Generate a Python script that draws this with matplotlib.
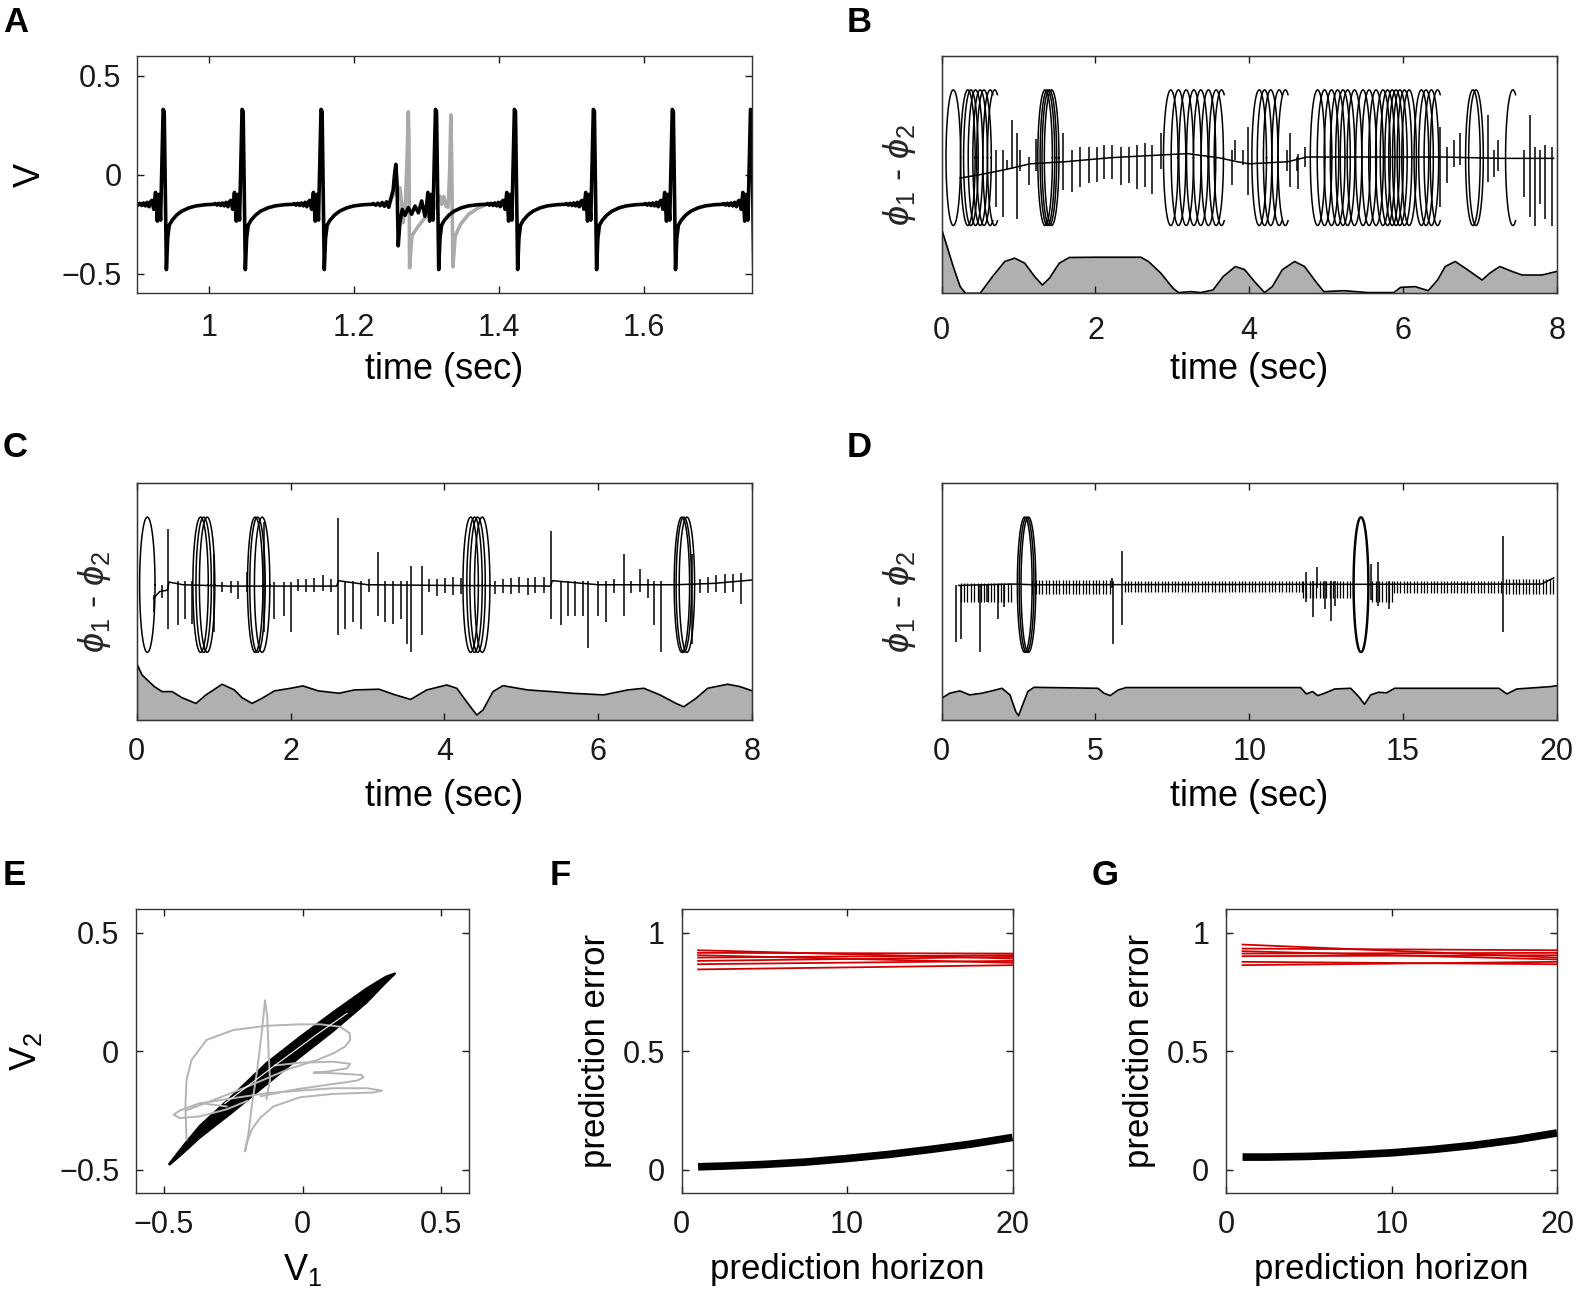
import numpy as np
import matplotlib
matplotlib.use("Agg")
import matplotlib.pyplot as plt

plt.rcParams['font.family'] = ['Liberation Sans', 'DejaVu Sans']
plt.rcParams['mathtext.fontset'] = 'custom'
plt.rcParams['mathtext.rm'] = 'Liberation Sans'
plt.rcParams['mathtext.it'] = 'Liberation Sans:italic'

# ---------------- A: membrane voltage ----------------
spike_dt = [-0.040, -0.0375, -0.035, -0.0325, -0.030, -0.0275, -0.025, -0.0225, -0.020,
            -0.0175, -0.0160, -0.0135, -0.0110, -0.0085, -0.0062, -0.0040, -0.0005, 0.0010,
            0.0030, 0.0040, 0.0058, 0.0080, 0.012, 0.018, 0.025, 0.035, 0.045, 0.058, 0.069]
spike_v = [-0.150, -0.146, -0.154, -0.145, -0.156, -0.143, -0.158, -0.140, -0.162,
           -0.135, -0.130, -0.175, -0.090, -0.235, -0.100, -0.230, 0.330, 0.320,
           -0.200, -0.480, -0.320, -0.255, -0.230, -0.205, -0.185, -0.168, -0.158, -0.152, -0.150]
spikes_A = [0.937, 1.046, 1.155, 1.313, 1.422, 1.531, 1.640, 1.748]

# cell 1 around the desynchronising event
blk_t = [1.2245, 1.2270, 1.2300, 1.2330, 1.2360, 1.2390, 1.2420, 1.2450, 1.2480, 1.2510,
         1.2540, 1.2560, 1.2578, 1.2595, 1.2611, 1.2634, 1.2667, 1.2704, 1.2750, 1.2796,
         1.2843, 1.2890, 1.2935, 1.2980, 1.3005]
blk_v = [-0.150, -0.146, -0.155, -0.144, -0.157, -0.141, -0.160, -0.138, -0.165, -0.120,
         -0.080, 0.000, 0.052, -0.050, -0.360, -0.243, -0.176, -0.206, -0.167, -0.200,
         -0.159, -0.193, -0.133, -0.210, -0.150]
# cell 2 where it departs from cell 1
gry_t = [1.2450, 1.2480, 1.2520, 1.2560, 1.2600, 1.2634, 1.2660, 1.2680, 1.2710, 1.2735,
         1.2750, 1.2758, 1.2768, 1.2800, 1.2843, 1.2890, 1.2980, 1.3070, 1.3130, 1.3160,
         1.3185, 1.3210, 1.3240, 1.3270, 1.3300, 1.3320, 1.3338, 1.3348, 1.3366, 1.3398,
         1.3470, 1.3583, 1.3722, 1.3810]
gry_v = [-0.138, -0.160, -0.120, -0.090, -0.075, -0.066, -0.150, -0.243, -0.150, 0.100,
         0.318, 0.200, -0.471, -0.310, -0.285, -0.260, -0.218, -0.193, -0.160, -0.120,
         -0.108, -0.150, -0.110, -0.160, -0.165, 0.000, 0.302, 0.100, -0.466, -0.310,
         -0.252, -0.200, -0.167, -0.155]

# ---------------- B, C, D: phase difference ----------------
loops_B = [0.151, 0.34, 0.38, 0.44, 0.50, 0.55, 1.345, 1.375, 1.40, 1.43,
           2.98, 3.08, 3.18, 3.28, 3.37, 3.47, 3.57, 4.13, 4.20, 4.28,
           4.89, 4.98, 5.07, 5.15, 5.22, 5.28, 5.37, 5.48, 5.56, 5.65, 5.74, 5.80,
           5.86, 5.91, 5.96, 6.02, 6.08, 6.24, 6.30, 6.37, 6.91, 6.95]
arcs_B = [0.63, 0.69, 3.64, 4.39, 4.47, 6.45, 7.43]
base_B_t = [0.24, 0.50, 0.85, 1.15, 1.60, 2.20, 2.85, 3.20, 3.60, 3.85, 4.00, 4.50, 4.75, 6.50, 7.30, 7.96]
base_B_y = [-0.30, -0.25, -0.17, -0.09, -0.06, 0.00, 0.04, 0.06, 0.00, -0.06, -0.09, -0.06, 0.01, 0.01, -0.01, -0.01]
ticks_B = [(0.70, 0.11, -0.73), (0.80, 0.11, -0.88), (0.85, -0.04, -0.16), (0.92, 0.56, -0.16),
           (0.98, 0.36, -0.90), (1.02, 0.11, -0.19), (1.13, 0.01, -0.41), (1.23, 0.28, -0.19),
           (1.58, 0.36, -0.48), (1.69, 0.11, -0.51), (1.80, 0.16, -0.43), (1.91, 0.16, -0.38),
           (2.02, 0.16, -0.36), (2.11, 0.19, -0.31), (2.22, 0.19, -0.31), (2.33, 0.16, -0.41),
           (2.43, 0.16, -0.38), (2.54, 0.19, -0.46), (2.64, 0.21, -0.43), (2.74, 0.19, -0.53),
           (2.85, 0.36, -0.16), (3.77, 0.11, -0.41), (3.81, 0.26, -0.04), (3.92, 0.11, -0.11),
           (3.99, 0.46, -0.55), (4.49, 0.11, -0.19), (4.53, 0.36, -0.43), (4.62, 0.01, -0.19),
           (4.64, 0.06, -0.46), (4.73, 0.16, -0.14), (6.48, 0.46, -0.73), (6.57, 0.16, -0.38),
           (6.66, 0.26, -0.14), (6.74, 0.36, -0.11), (7.11, 0.63, -0.36), (7.18, 0.11, -0.28),
           (7.24, 0.26, -0.19), (7.57, 0.11, -0.58), (7.65, 0.63, -0.88), (7.72, 0.16, -1.0),
           (7.78, 0.11, -0.68), (7.85, 0.19, -0.90), (7.94, 0.16, -1.0)]
prof_B_t = [0.0, 0.15, 0.24, 0.31, 0.50, 0.66, 0.82, 0.95, 1.08, 1.21, 1.31, 1.40, 1.53, 1.66,
            2.01, 2.59, 2.69, 2.85, 3.01, 3.08, 3.24, 3.37, 3.53, 3.66, 3.82, 3.94, 4.07, 4.20,
            4.30, 4.43, 4.59, 4.72, 4.85, 4.97, 5.23, 5.55, 5.88, 5.97, 6.16, 6.33, 6.45, 6.55,
            6.68, 6.81, 7.03, 7.13, 7.26, 7.42, 7.55, 7.81, 8.0]
prof_B_v = [0.27, 0.113, 0.028, 0.0, 0.0, 0.07, 0.134, 0.148, 0.127, 0.07, 0.035, 0.063, 0.127, 0.151,
            0.152, 0.152, 0.134, 0.085, 0.021, 0.003, 0.007, 0.003, 0.014, 0.07, 0.113, 0.10, 0.049, 0.003,
            0.028, 0.099, 0.134, 0.113, 0.056, 0.007, 0.011, 0.003, 0.003, 0.025, 0.028, 0.011, 0.056, 0.113,
            0.134, 0.106, 0.056, 0.085, 0.113, 0.092, 0.077, 0.077, 0.092]

loops_C = [0.138, 0.83, 0.87, 0.915, 1.54, 1.57, 1.63, 4.34, 4.39, 4.43, 4.49, 7.085, 7.11, 7.15]
arcs_C = []
base_C_t = [0.22, 0.30, 0.40, 0.42, 0.60, 1.20, 2.00, 2.60, 2.62, 3.00, 4.00, 5.38, 5.40, 6.00, 7.00, 7.50, 8.00]
base_C_y = [-0.20, -0.10, -0.08, 0.04, 0.00, -0.02, -0.02, -0.02, 0.06, 0.00, -0.01, -0.02, 0.06, 0.00, 0.00, 0.02, 0.07]
ticks_C = [(0.22, -0.15, -0.41), (0.33, 0.0, -0.20), (0.41, 0.83, -0.65), (0.54, 0.05, -0.60),
           (0.63, 0.05, -0.51), (0.72, 0.05, -0.58), (1.01, 0.46, -0.70), (1.11, 0.04, -0.11),
           (1.22, 0.06, -0.12), (1.32, 0.06, -0.21), (1.43, 0.19, -0.11), (1.66, 0.93, -0.70),
           (1.79, 0.04, -0.51), (1.91, 0.04, -0.46), (2.00, 0.04, -0.70), (2.10, 0.09, -0.09),
           (2.20, 0.09, -0.11), (2.31, 0.10, -0.11), (2.42, 0.14, -0.09), (2.52, 0.09, -0.10),
           (2.61, 0.98, -0.75), (2.71, 0.06, -0.65), (2.81, 0.06, -0.55), (2.91, 0.06, -0.65),
           (3.02, 0.08, -0.10), (3.13, 0.48, -0.46), (3.23, 0.06, -0.55), (3.33, 0.06, -0.58),
           (3.43, 0.06, -0.50), (3.51, 0.06, -0.88), (3.56, 0.28, -1.0), (3.71, 0.28, -0.75),
           (3.80, 0.08, -0.10), (3.90, 0.08, -0.16), (4.01, 0.10, -0.12), (4.11, 0.12, -0.15),
           (4.22, 0.10, -0.14), (4.66, 0.06, -0.14), (4.76, 0.08, -0.12), (4.87, 0.10, -0.14),
           (4.97, 0.12, -0.12), (5.08, 0.10, -0.15), (5.18, 0.12, -0.12), (5.29, 0.12, -0.12),
           (5.39, 0.80, -0.51), (5.51, 0.06, -0.60), (5.60, 0.06, -0.46), (5.69, 0.06, -0.46),
           (5.80, 0.06, -0.46), (5.86, 0.06, -0.93), (5.99, 0.06, -0.46), (6.10, 0.06, -0.55),
           (6.20, 0.08, -0.12), (6.33, 0.46, -0.46), (6.43, 0.06, -0.12), (6.54, 0.24, -0.11),
           (6.64, 0.08, -0.20), (6.72, 0.06, -0.60), (6.82, 0.06, -1.0), (7.22, 0.45, -0.88),
           (7.32, 0.08, -0.12), (7.43, 0.12, -0.12), (7.53, 0.14, -0.10), (7.64, 0.16, -0.12),
           (7.75, 0.16, -0.10), (7.85, 0.18, -0.28)]
prof_C_t = [0.0, 0.07, 0.23, 0.33, 0.46, 0.59, 0.77, 0.90, 1.11, 1.27, 1.37, 1.50, 1.63, 1.79,
            2.00, 2.16, 2.36, 2.63, 2.83, 3.15, 3.36, 3.56, 3.77, 4.03, 4.16, 4.32, 4.42, 4.50,
            4.63, 4.76, 5.08, 5.39, 5.65, 6.07, 6.38, 6.59, 6.80, 7.01, 7.11, 7.27, 7.42, 7.68,
            7.84, 8.0]
prof_C_v = [0.239, 0.19, 0.141, 0.12, 0.12, 0.094, 0.07, 0.106, 0.151, 0.127, 0.094, 0.07, 0.092, 0.123,
            0.134, 0.144, 0.123, 0.113, 0.127, 0.13, 0.106, 0.087, 0.127, 0.148, 0.134, 0.063, 0.021, 0.042,
            0.12, 0.145, 0.127, 0.12, 0.113, 0.106, 0.127, 0.134, 0.106, 0.07, 0.056, 0.092, 0.134, 0.151,
            0.141, 0.123]

loops_D = [2.70, 2.76, 2.82, 13.62, 13.65]
arcs_D = []
base_D_t = [0.55, 2.30, 3.00, 19.50, 19.90]
base_D_y = [-0.01, 0.01, 0.00, 0.01, 0.10]
ticks_D = [(0.46, 0.0, -0.85), (0.63, 0.0, -0.80), (1.24, 0.0, -1.0), (1.47, 0.0, -0.26),
           (1.83, 0.0, -0.51), (2.02, 0.0, -0.33), (5.54, 0.10, -0.05), (5.58, 0.05, -0.88),
           (5.87, 0.50, -0.60), (11.86, 0.19, -0.26), (12.06, 0.05, -0.48), (12.20, 0.26, -0.05),
           (12.45, 0.05, -0.36), (12.65, 0.05, -0.53), (12.78, 0.05, -0.31), (13.95, 0.31, -0.23),
           (14.20, 0.33, -0.31), (14.54, 0.05, -0.36), (18.25, 0.72, -0.70)]
# (start, end, top, bottom) of the regular spike-by-spike ripple
combs_D = [(0.62, 2.35, 0.03, -0.26), (2.95, 5.55, 0.07, -0.14), (5.95, 11.75, 0.05, -0.11),
           (11.75, 13.40, 0.06, -0.20), (14.00, 14.70, 0.06, -0.25), (14.70, 18.20, 0.05, -0.12),
           (18.35, 19.95, 0.09, -0.14)]
spike_period = 0.109
prof_D_t = [0.0, 0.26, 0.59, 0.91, 1.30, 1.63, 1.96, 2.22, 2.41, 2.50, 2.63, 2.80, 3.00, 5.08,
            5.28, 5.48, 5.74, 6.00, 11.67, 11.86, 12.06, 12.23, 12.45, 12.78, 13.30, 13.56, 13.75,
            13.95, 14.20, 14.47, 14.73, 18.12, 18.38, 18.70, 19.80, 20.0]
prof_D_v = [0.092, 0.113, 0.123, 0.106, 0.113, 0.123, 0.134, 0.106, 0.035, 0.018, 0.063, 0.12, 0.138, 0.134,
            0.113, 0.103, 0.127, 0.137, 0.137, 0.11, 0.12, 0.103, 0.113, 0.131, 0.134, 0.099, 0.066,
            0.106, 0.117, 0.115, 0.134, 0.134, 0.11, 0.131, 0.141, 0.145]

# ---------------- E: V1 vs V2 ----------------
band_x = [-0.48, -0.42, -0.37, -0.25, -0.13, -0.01, 0.11, 0.23, 0.30, 0.335,
          0.30, 0.23, 0.11, -0.01, -0.13, -0.25, -0.37, -0.44, -0.48]
band_y = [-0.475, -0.385, -0.315, -0.185, -0.05, 0.06, 0.165, 0.265, 0.315, 0.330,
          0.29, 0.205, 0.085, -0.025, -0.14, -0.255, -0.365, -0.44, -0.48]
gx1 = [-0.418, -0.422, -0.418, -0.40, -0.346, -0.249, -0.129, -0.008, 0.064, 0.136, 0.17, 0.172,
       0.154, 0.112, 0.052, -0.05, -0.20, -0.33, -0.42]
gy1 = [-0.374, -0.233, -0.121, -0.037, 0.048, 0.090, 0.108, 0.114, 0.114, 0.104, 0.076, 0.048,
       0.020, -0.008, -0.037, -0.075, -0.15, -0.21, -0.25]
gx2 = [-0.10, -0.008, 0.112, 0.172, 0.16, 0.088, 0.04, 0.112, 0.214, 0.22, 0.196, 0.088, -0.02, -0.15]
gy2 = [-0.060, -0.048, -0.044, -0.053, -0.072, -0.086, -0.09, -0.093, -0.100, -0.110, -0.124, -0.142, -0.16, -0.19]
gx3 = [-0.37, -0.249, -0.129, -0.008, 0.112, 0.233, 0.287, 0.257, 0.112, -0.008, -0.105, -0.153,
       -0.183, -0.201, -0.207, -0.195, -0.183, -0.165, -0.147, -0.135, -0.127, -0.122, -0.117, -0.13]
gy3 = [-0.22, -0.198, -0.177, -0.166, -0.156, -0.156, -0.166, -0.174, -0.180, -0.194, -0.233, -0.282,
       -0.331, -0.388, -0.423, -0.35, -0.233, -0.093, 0.076, 0.216, 0.146, -0.008, -0.121, -0.20]
gx4 = [-0.273, -0.37, -0.442, -0.464, -0.442, -0.37, -0.273, -0.20]
gy4 = [-0.233, -0.219, -0.25, -0.268, -0.282, -0.275, -0.245, -0.21]

# ---------------- F, G: prediction error ----------------
horizon = [1, 2.5, 5, 7.5, 10, 12.5, 15, 17.5, 20]
err_F_fit = [0.012, 0.015, 0.022, 0.032, 0.047, 0.064, 0.085, 0.108, 0.136]
err_G_fit = [0.053, 0.053, 0.056, 0.062, 0.071, 0.085, 0.103, 0.126, 0.155]
red_F_start = [0.927, 0.916, 0.906, 0.896, 0.882, 0.868, 0.846]
red_F_end = [0.892, 0.913, 0.874, 0.906, 0.899, 0.882, 0.864]
red_G_start = [0.951, 0.934, 0.923, 0.913, 0.902, 0.878, 0.864]
red_G_end = [0.896, 0.927, 0.888, 0.916, 0.906, 0.868, 0.878]

# ================= drawing =================
W, H = 1576, 1305
fig = plt.figure(figsize=(W / 100, H / 100), dpi=100)


def add_ax(l, t, r, b):
    return fig.add_axes([l / W, 1 - b / H, (r - l) / W, (b - t) / H])


def style(ax, yticks=True, xpad=12, ypad=11):
    ax.tick_params(direction='in', length=5, width=1, top=True, right=yticks, left=yticks,
                   labelsize=22, colors='0.1')
    ax.tick_params(axis='x', pad=xpad)
    ax.tick_params(axis='y', pad=ypad)
    for s in ax.spines.values():
        s.set_linewidth(1.0)
        s.set_color('0.2')


axA = add_ax(136.7, 56, 752.3, 293.3)
axB = add_ax(941.7, 56, 1556.7, 293.3)
axC = add_ax(136.7, 483.3, 752.3, 720)
axD = add_ax(941.7, 483.3, 1556.7, 720)
axE = add_ax(136, 909.3, 469, 1193.3)
axF = add_ax(681.5, 909.3, 1012.5, 1193.3)
axG = add_ax(1226, 909.3, 1557, 1193.3)

# --- A
st = np.concatenate([tp + np.asarray(spike_dt) for tp in spikes_A])
sv = np.tile(spike_v, len(spikes_A))
own = np.repeat(spikes_A, len(spike_dt))
dts = np.tile(spike_dt, len(spikes_A))
keep = ~((own == 1.313) & (dts < -0.0124))
tt = np.concatenate([st[keep], blk_t])
vv = np.concatenate([sv[keep], blk_v])
o = np.argsort(tt)
axA.plot(gry_t, gry_v, color='#aaaaaa', lw=2.6, solid_joinstyle='round')
axA.plot(tt[o], vv[o], color='k', lw=2.6, solid_joinstyle='round')
axA.set_xlim(0.9, 1.75)
axA.set_ylim(-0.6, 0.6)
axA.set_xticks([1, 1.2, 1.4, 1.6])
axA.set_xticklabels(['1', '1.2', '1.4', '1.6'])
axA.set_yticks([-0.5, 0, 0.5])
axA.set_yticklabels(['\u22120.5', '0', '0.5'])
style(axA, xpad=14)
axA.set_xlabel('time (sec)', fontsize=26, va='center')
axA.xaxis.set_label_coords(0.5, -0.323)
axA.set_ylabel('V', fontsize=26, va='center')
axA.yaxis.set_label_coords(-0.172, 0.5)


def phase_panel(ax, loops, arcs, hw, base_t, base_y, ticks, prof_t, prof_v, xmax, xt, combs=(), xpad=14):
    s = np.linspace(0, 2 * np.pi, 120)
    for c in loops:
        ax.plot(c + hw * np.cos(s), np.sin(s), color='k', lw=1.1)
    sa = np.linspace(0.38 * np.pi, 1.62 * np.pi, 90)
    for c in arcs:
        ax.plot(c + hw * np.cos(sa), np.sin(sa), color='k', lw=1.1)
    ax.plot(base_t, base_y, color='k', lw=1.1)
    tk = np.array(ticks)
    ax.vlines(tk[:, 0], tk[:, 2], tk[:, 1], color='k', lw=1.1)
    for t0, t1, hi, lo in combs:
        ct = np.arange(t0, t1, spike_period)
        ax.vlines(ct, lo, hi, color='k', lw=0.9)
    ax.set_xlim(0, xmax)
    ax.set_ylim(-2.0, 1.5)
    ax.set_yticks([])
    ax.set_xticks(xt)
    style(ax, yticks=False, xpad=xpad)
    ax.set_xlabel('time (sec)', fontsize=26, va='center')
    ax.xaxis.set_label_coords(0.5, -0.323)
    ax.set_ylabel(r'$\phi_1$ - $\phi_2$', fontsize=26, va='center', color='0.15')
    ax.yaxis.set_label_coords(-0.068, 0.5)
    g = ax.twinx()
    g.fill_between(prof_t, 0, prof_v, color='#b0b0b0', lw=0)
    g.plot(prof_t, prof_v, color='k', lw=1.2)
    g.set_ylim(0, 1)
    g.set_yticks([])
    g.set_zorder(ax.get_zorder() - 1)
    ax.patch.set_visible(False)


phase_panel(axB, loops_B, arcs_B, 0.095, base_B_t, base_B_y, ticks_B, prof_B_t, prof_B_v, 8, [0, 2, 4, 6, 8],
            xpad=16)
phase_panel(axC, loops_C, arcs_C, 0.1, base_C_t, base_C_y, ticks_C, prof_C_t, prof_C_v, 8, [0, 2, 4, 6, 8],
            xpad=12)
phase_panel(axD, loops_D, arcs_D, 0.24, base_D_t, base_D_y, ticks_D, prof_D_t, prof_D_v, 20,
            [0, 5, 10, 15, 20], combs=combs_D, xpad=12)

# --- E
for gx, gy in [(gx1, gy1), (gx2, gy2), (gx3, gy3), (gx4, gy4)]:
    axE.plot(gx, gy, color='#b4b4b4', lw=1.4)
axE.fill(band_x, band_y, color='k', lw=1.5, ec='k')
axE.plot([-0.28, -0.1, 0.05, 0.16], [-0.22, -0.06, 0.07, 0.16], color='w', lw=0.8)
axE.set_xlim(-0.6, 0.6)
axE.set_ylim(-0.6, 0.6)
axE.set_xticks([-0.5, 0, 0.5])
axE.set_xticklabels(['\u22120.5', '0', '0.5'])
axE.set_yticks([-0.5, 0, 0.5])
axE.set_yticklabels(['\u22120.5', '0', '0.5'])
style(axE, xpad=12, ypad=12)
axE.set_xlabel(r'V$_1$', fontsize=26, va='center')
axE.xaxis.set_label_coords(0.5, -0.27)
axE.set_ylabel(r'V$_2$', fontsize=26, va='center')
axE.yaxis.set_label_coords(-0.33, 0.5)

# --- F, G
for ax, fit, rs, re in [(axF, err_F_fit, red_F_start, red_F_end), (axG, err_G_fit, red_G_start, red_G_end)]:
    for a, b in zip(rs, re):
        ax.plot([1, 20], [a, b], color='#d00000', lw=1.3)
    ax.plot(horizon, fit, color='k', lw=5.5, solid_capstyle='butt')
    ax.set_xlim(0, 20)
    ax.set_ylim(-0.1, 1.1)
    ax.set_xticks([0, 10, 20])
    ax.set_yticks([0, 0.5, 1])
    ax.set_yticklabels(['0', '0.5', '1'])
    style(ax, xpad=12, ypad=12)
    ax.set_xlabel('prediction horizon', fontsize=25, va='center')
    ax.xaxis.set_label_coords(0.5, -0.267)
    ax.set_ylabel('prediction error', fontsize=25, va='center')
    ax.yaxis.set_label_coords(-0.26, 0.5)

# panel letters
for lab, x, y in [('A', 3, 32), ('B', 847, 32), ('C', 3, 457), ('D', 847, 457),
                  ('E', 3, 885), ('F', 550, 885), ('G', 1092, 885)]:
    fig.text(x / W, 1 - y / H, lab, fontsize=25, fontweight='bold', va='baseline', ha='left')

fig.savefig('out.png', dpi=100)
